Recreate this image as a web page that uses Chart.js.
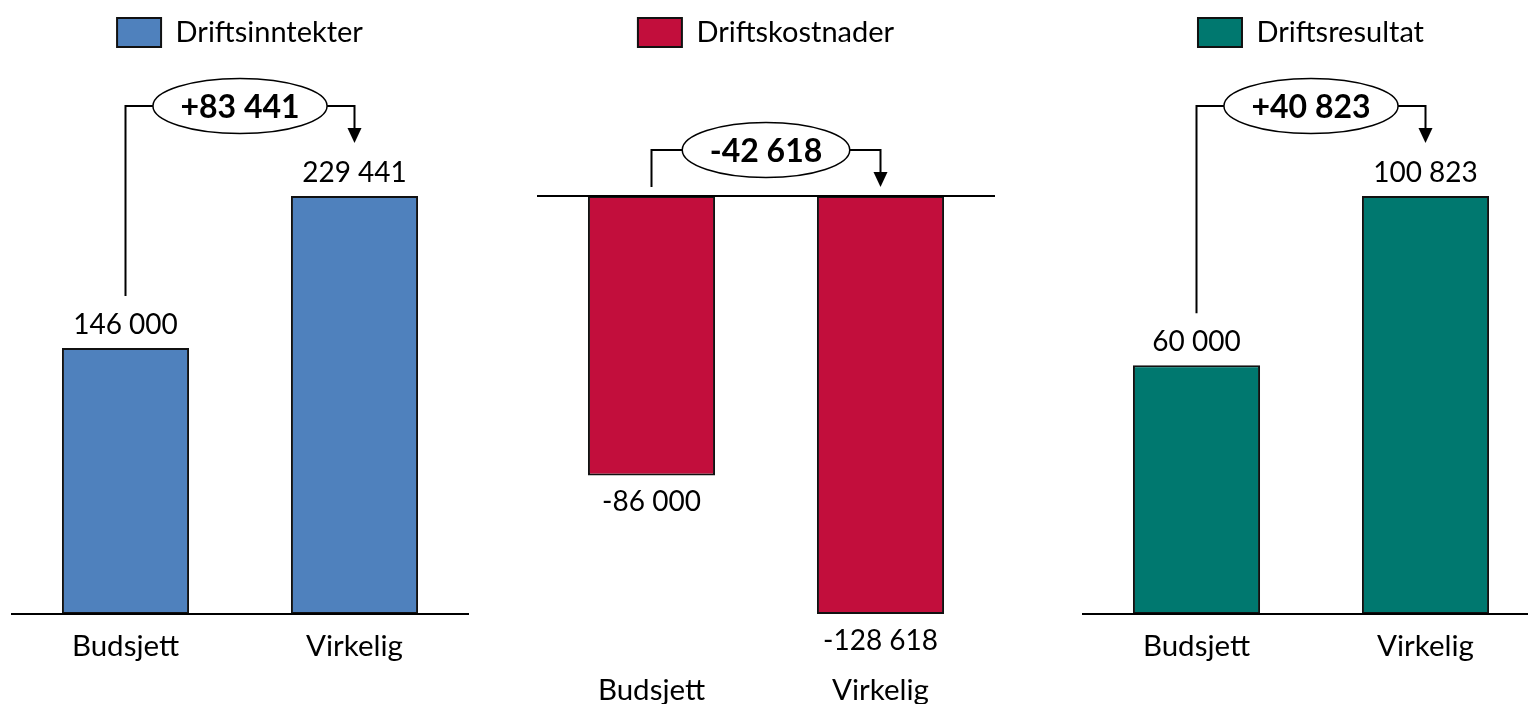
<!DOCTYPE html>
<html>
<head>
<meta charset="utf-8">
<script src="https://cdn.jsdelivr.net/npm/chart.js@4.4.0/dist/chart.umd.min.js"></script>
<style>
  html, body { margin: 0; padding: 0; width: 1528px; height: 704px; overflow: hidden; background: #fff; }
  canvas { position: absolute; top: 0; }
</style>
</head>
<body>
<canvas id="c1" width="458" height="740" style="left:11px"></canvas>
<canvas id="c2" width="458" height="740" style="left:537px"></canvas>
<canvas id="c3" width="458" height="740" style="left:1082px"></canvas>
<script>
// Data
const categories = ['Budsjett', 'Virkelig'];
const seriesNames = ['Driftsinntekter', 'Driftskostnader', 'Driftsresultat'];
const inntekter = [146000, 229441];
const kostnader = [-86000, -128618];
const resultat = [60000, 100823];
const seriesColors = ['#4F81BD', '#C20E3C', '#00786F'];

const FONT = 'Lato, "Open Sans", sans-serif';
// tallest bar runs from BAR_BOTTOM up to BAR_TOP in every panel
const BAR_TOP = 196;
const BAR_BOTTOM = 614;

function fmt(n) {
  return Math.abs(n).toString().replace(/\B(?=(\d{3})+(?!\d))/g, ' ');
}

// zero line, value labels, difference bracket with ellipse
const annotatePlugin = {
  id: 'annotate',
  afterDraw(chart) {
    const ctx = chart.ctx;
    const area = chart.chartArea;
    const meta = chart.getDatasetMeta(0);
    const vals = chart.data.datasets[0].data;
    const zero = chart.scales.y.getPixelForValue(0);
    ctx.save();
    ctx.strokeStyle = '#000';
    ctx.fillStyle = '#000';
    ctx.lineWidth = 2;

    ctx.beginPath();
    ctx.moveTo(area.left, zero);
    ctx.lineTo(area.right, zero);
    ctx.stroke();

    ctx.font = '28px ' + FONT;
    ctx.textAlign = 'center';
    ctx.textBaseline = 'alphabetic';
    meta.data.forEach((bar, i) => {
      const v = vals[i];
      const mid = v >= 0 ? bar.y - 24 : bar.y + 26;
      ctx.fillText((v < 0 ? '-' : '') + fmt(v), bar.x, mid + 10);
    });

    const b0 = meta.data[0], b1 = meta.data[1];
    const anyAbove = vals.some(v => v > 0);
    const topY = Math.min(zero, ...meta.data.map(b => b.y));
    const bracketY = topY - 46 - (anyAbove ? 44 : 0);
    const tipY = bracketY + 37;
    const startY = vals[0] > 0 ? b0.y - 52 : tipY;
    const diff = vals[1] - vals[0];
    const txt = (diff >= 0 ? '+' : '-') + fmt(diff);

    ctx.font = 'bold 32px ' + FONT;
    const rx = (ctx.measureText(txt).width + 55) / 2;
    const ry = 27.5;
    const cx = (b0.x + b1.x) / 2;

    ctx.beginPath();
    ctx.moveTo(b0.x, startY);
    ctx.lineTo(b0.x, bracketY);
    ctx.lineTo(cx - rx, bracketY);
    ctx.stroke();

    ctx.beginPath();
    ctx.moveTo(cx + rx, bracketY);
    ctx.lineTo(b1.x, bracketY);
    ctx.lineTo(b1.x, tipY - 12);
    ctx.stroke();

    ctx.beginPath();
    ctx.moveTo(b1.x - 7, tipY - 15);
    ctx.lineTo(b1.x + 7, tipY - 15);
    ctx.lineTo(b1.x, tipY);
    ctx.closePath();
    ctx.fill();

    ctx.beginPath();
    ctx.ellipse(cx, bracketY, rx, ry, 0, 0, Math.PI * 2);
    ctx.fillStyle = '#fff';
    ctx.fill();
    ctx.lineWidth = 1.5;
    ctx.stroke();

    ctx.fillStyle = '#000';
    ctx.fillText(txt, cx, bracketY + 11.5);
    ctx.restore();
  }
};

function makePanel(id, name, values, color, bottomPad) {
  const chart = new Chart(document.getElementById(id), {
    type: 'bar',
    data: {
      labels: categories,
      datasets: [{
        label: name,
        data: values,
        backgroundColor: color,
        borderColor: '#111',
        borderWidth: 2,
        borderSkipped: false,
        categoryPercentage: 0.555,
        barPercentage: 1,
        clip: false
      }]
    },
    options: {
      responsive: false,
      animation: false,
      layout: { padding: { top: 8, bottom: bottomPad } },
      plugins: {
        legend: {
          position: 'top',
          labels: { boxWidth: 44, boxHeight: 29, color: '#000', font: { family: FONT, size: 29 }, padding: 10 }
        },
        tooltip: { enabled: false }
      },
      scales: {
        x: {
          grid: { display: false, drawTicks: false },
          border: { display: false },
          ticks: { color: '#000', padding: 18, font: { family: FONT, size: 29.5, lineHeight: 1 } }
        },
        y: { display: false, min: 0, max: 1 }
      }
    },
    plugins: [annotatePlugin]
  });

  // place zero and the largest bar on the shared reference lines
  const range = Math.max(...values.map(Math.abs));
  const ppu = (BAR_BOTTOM - BAR_TOP) / range;
  const zeroY = values.some(v => v < 0) ? BAR_TOP : BAR_BOTTOM;
  const a = chart.chartArea;
  chart.options.scales.y.min = -(a.bottom - zeroY) / ppu;
  chart.options.scales.y.max = (zeroY - a.top) / ppu;
  chart.update();
  return chart;
}

makePanel('c1', seriesNames[0], inntekter, seriesColors[0], 61);
makePanel('c2', seriesNames[1], kostnader, seriesColors[1], 17);
makePanel('c3', seriesNames[2], resultat, seriesColors[2], 61);
</script>
</body>
</html>
